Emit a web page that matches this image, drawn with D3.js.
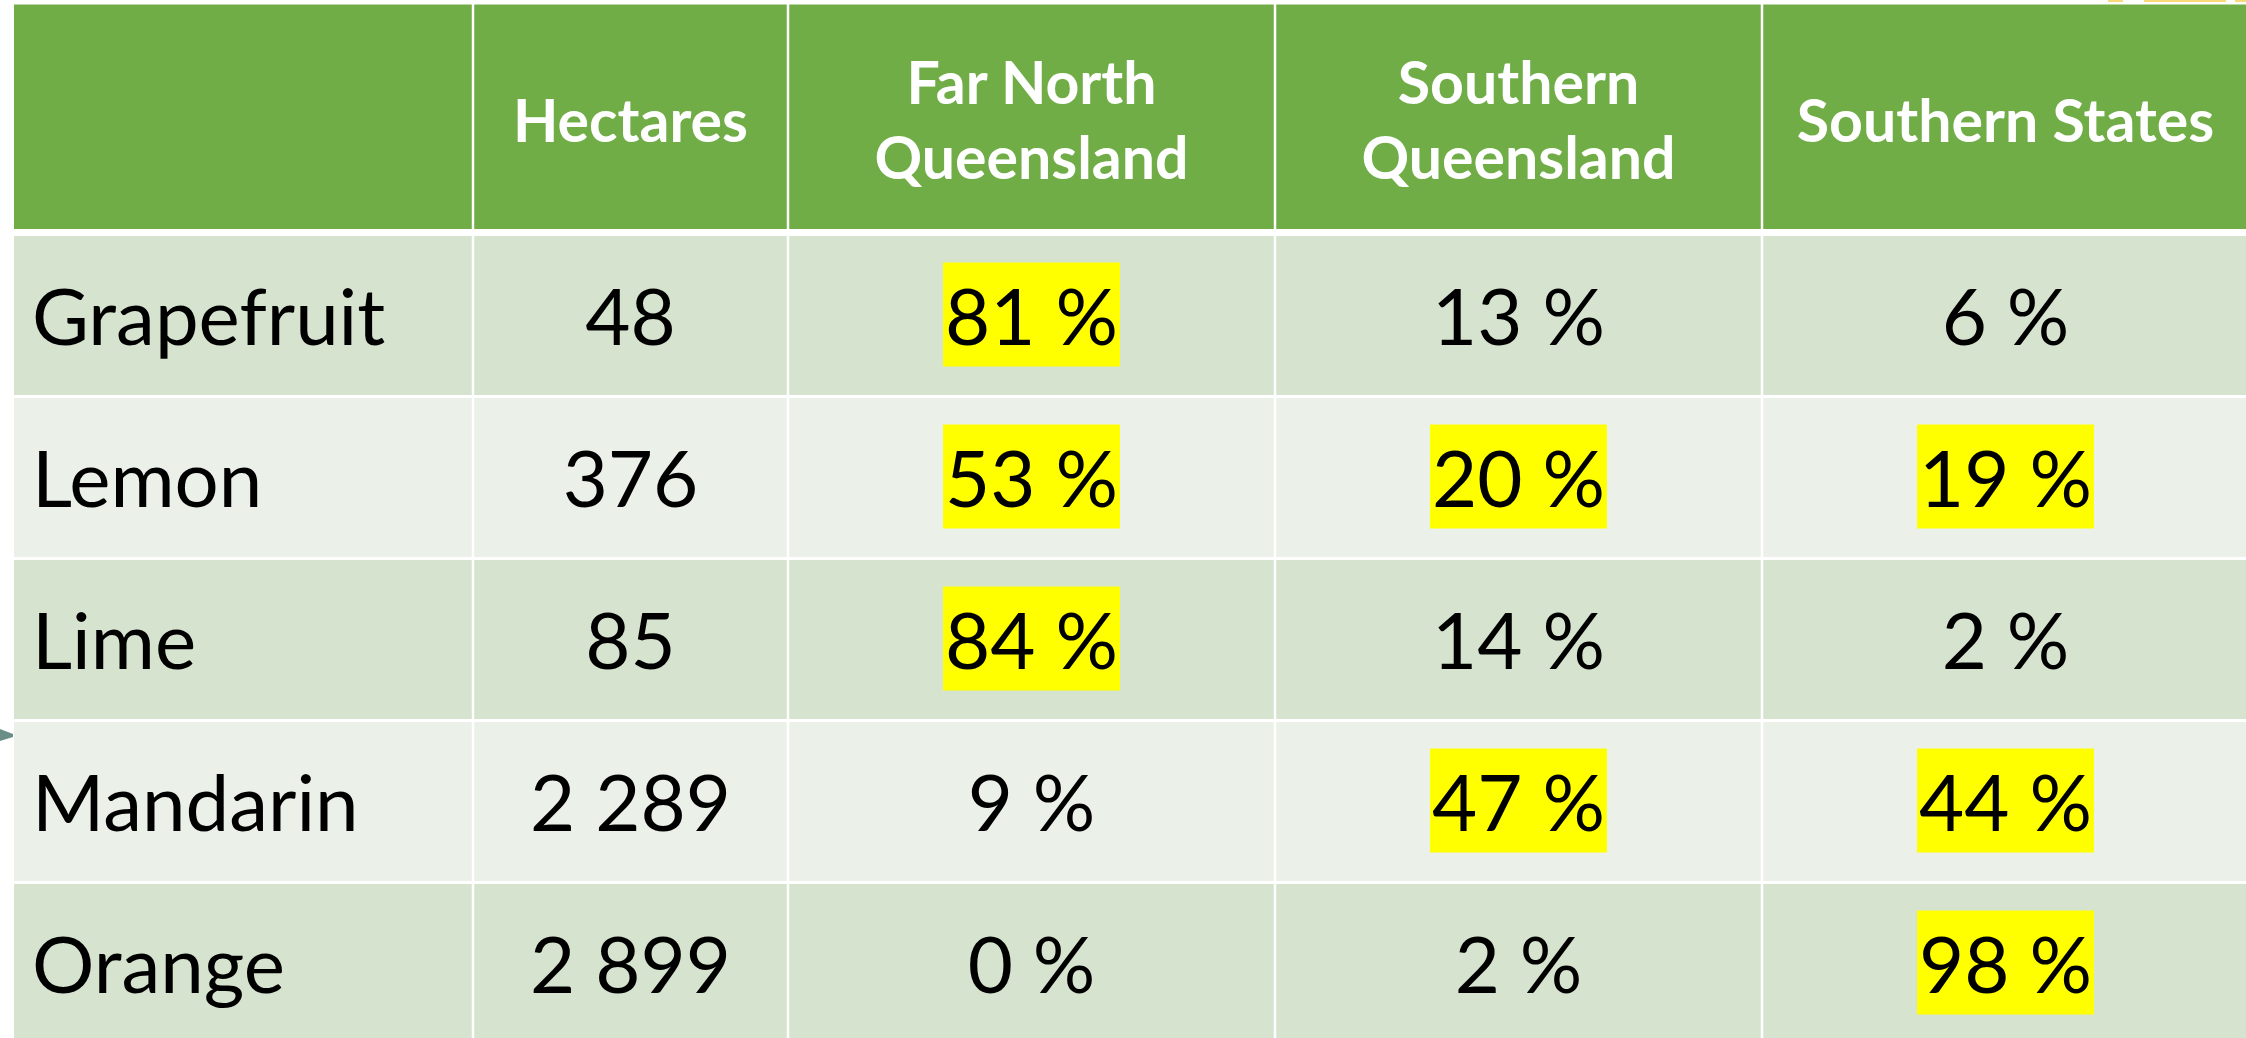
<!DOCTYPE html>
<html>
<head>
<meta charset="utf-8">
<script src="https://cdn.jsdelivr.net/npm/d3@7"></script>
<style>
  html, body { margin: 0; padding: 0; background: #fff; overflow: hidden; }
  svg { display: block; }
</style>
</head>
<body>
<div id="tbl"></div>
<script>
// table content
const fruits = ["Grapefruit", "Lemon", "Lime", "Mandarin", "Orange"];
const hectares = [48, 376, 85, 2289, 2899];
const farNorthQld = [81, 53, 84, 9, 0];
const southernQld = [13, 20, 14, 47, 2];
const southernStates = [6, 19, 2, 44, 98];
const headers = [[], ["Hectares"], ["Far North", "Queensland"], ["Southern", "Queensland"], ["Southern States"]];
const highlightFrom = 15;   // shares at or above this get the yellow marker

const width = 2246, height = 1038;
const left = 14, headTop = 4.5, headBottom = 229, bodyTop = 234.5, rowPitch = 162;
const colWidths = [459, 315, 487, 487, 487];
const colEdges = [left].concat(Array.from(d3.cumsum(colWidths), v => v + left));

const green = "#70AD47", bandDark = "#D6E3CF", bandLight = "#EBF0E9", marker = "#FFFF00";

const svg = d3.select("#tbl").append("svg")
    .attr("width", width)
    .attr("height", height);

const x = d3.scaleOrdinal().domain(d3.range(5)).range(colEdges.slice(0, 5));
const w = d3.scaleOrdinal().domain(d3.range(5)).range(colWidths);
const y = d3.scaleBand().domain(fruits).range([bodyTop, bodyTop + rowPitch * fruits.length]);

const fmtHa = d3.formatLocale({decimal: ".", thousands: " ", grouping: [3], currency: ["", ""]}).format(",");
const pct = v => v + " %";

// rows as cell arrays
const rows = fruits.map((f, i) => [
    {text: f, align: "start"},
    {text: fmtHa(hectares[i])},
    {text: pct(farNorthQld[i]), hl: farNorthQld[i] >= highlightFrom},
    {text: pct(southernQld[i]), hl: southernQld[i] >= highlightFrom},
    {text: pct(southernStates[i]), hl: southernStates[i] >= highlightFrom}
]);

// header
const head = svg.append("g").attr("class", "head");
head.selectAll("rect").data(headers).enter().append("rect")
    .attr("x", (d, i) => i === 0 ? x(i) : x(i) + 1.25)
    .attr("y", headTop)
    .attr("width", (d, i) => w(i) - (i === 0 ? 1.25 : 2.5))
    .attr("height", headBottom - headTop)
    .attr("fill", green);

const headMid = (headTop + headBottom) / 2;
head.selectAll("text").data(headers).enter().append("text")
    .attr("x", (d, i) => x(i) + w(i) / 2)
    .attr("y", headMid)
    .attr("text-anchor", "middle")
    .attr("fill", "#fff")
    .style("font-family", "Lato, 'Open Sans', sans-serif")
    .style("font-weight", "bold")
    .style("font-size", "59px")
    .each(function(lines) {
        const t = d3.select(this);
        lines.forEach((ln, k) => {
            t.append("tspan")
                .attr("x", t.attr("x"))
                .attr("y", headMid)
                .attr("dy", (0.42 + (k - (lines.length - 1) / 2) * 1.26) + "em")
                .text(ln);
        });
    });

// body rows
const body = svg.append("g").attr("class", "body");
const row = body.selectAll("g.row").data(rows).enter().append("g")
    .attr("class", "row")
    .attr("transform", (d, i) => `translate(0,${y(fruits[i])})`);

row.selectAll("rect.cell").data(d => d).enter().append("rect")
    .attr("class", "cell")
    .attr("x", (d, i) => i === 0 ? x(i) : x(i) + 1.25)
    .attr("y", 1.5)
    .attr("width", (d, i) => w(i) - (i === 0 ? 1.25 : 2.5))
    .attr("height", y.bandwidth() - 3)
    .attr("fill", function() {
        const r = d3.select(this.parentNode).datum();
        return rows.indexOf(r) % 2 === 0 ? bandDark : bandLight;
    });

const rowMid = y.bandwidth() / 2;
row.selectAll("g.val").data(d => d).enter().append("g")
    .attr("class", "val")
    .each(function(d, i) {
        const g = d3.select(this);
        const hlRect = g.append("rect").attr("fill", d.hl ? marker : "none");
        const t = g.append("text")
            .attr("x", d.align === "start" ? x(i) + 18 : x(i) + w(i) / 2)
            .attr("y", rowMid)
            .attr("dy", "0.38em")
            .attr("text-anchor", d.align === "start" ? "start" : "middle")
            .attr("fill", "#000")
            .style("font-family", "Lato, 'Open Sans', sans-serif")
            .style("font-size", "78px")
            .text(d.text);
        if (d.hl) {
            const len = t.node().getComputedTextLength();
            hlRect.attr("x", x(i) + w(i) / 2 - len / 2 - 2)
                .attr("width", len + 4)
                .attr("y", rowMid - 53)
                .attr("height", 104);
        }
    });

// stray bits from the slide around the table
svg.append("path")
    .attr("d", "M0,729 L13,734 L13,737 L0,741 Z")
    .attr("fill", "#6b8f86");
svg.selectAll("rect.deco").data([[2108, 15], [2144, 82], [2235, 11]]).enter().append("rect")
    .attr("class", "deco")
    .attr("x", d => d[0]).attr("y", 0)
    .attr("width", d => d[1]).attr("height", 2)
    .attr("fill", "#F9D97A");
</script>
</body>
</html>
